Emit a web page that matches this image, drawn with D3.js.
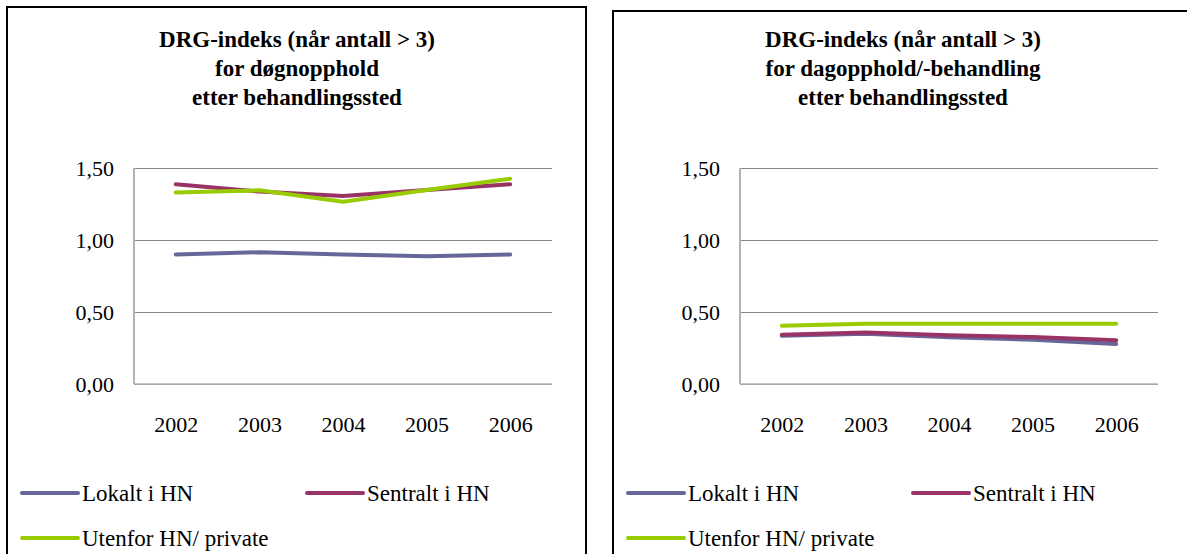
<!DOCTYPE html>
<html>
<head>
<meta charset="utf-8">
<script src="https://cdn.jsdelivr.net/npm/d3@7"></script>
<style>
  body { margin: 0; background: #fff; }
</style>
</head>
<body>
<svg id="chart" width="1187" height="554"></svg>
<script>
// categories
const years = ["2002", "2003", "2004", "2005", "2006"];
const seriesNames = ["Lokalt i HN", "Sentralt i HN", "Utenfor HN/ private"];
const yTicks = [0, 0.5, 1.0, 1.5];

// døgnopphold
const dognLokalt   = [0.90, 0.915, 0.90, 0.887, 0.90];
const dognSentralt = [1.387, 1.336, 1.306, 1.347, 1.387];
const dognUtenfor  = [1.33, 1.345, 1.266, 1.347, 1.426];

// dagopphold/-behandling
const dagLokalt   = [0.335, 0.349, 0.324, 0.308, 0.278];
const dagSentralt = [0.342, 0.358, 0.338, 0.326, 0.303];
const dagUtenfor  = [0.405, 0.419, 0.419, 0.419, 0.419];

const leftTitle = ["DRG-indeks (når antall > 3)", "for døgnopphold", "etter behandlingssted"];
const rightTitle = ["DRG-indeks (når antall > 3)", "for dagopphold/-behandling", "etter behandlingssted"];

const colors = ["#666699", "#993366", "#99cc00"];
const serif = "'Times New Roman', Times, 'Liberation Serif', 'DejaVu Serif', serif";

const svg = d3.select("#chart")
    .style("font-family", serif);

function drawPanel(px, py, titleLines, seriesData) {
    let g = svg.append("g").attr("transform", "translate(" + px + ",0)");

    g.append("rect")
        .attr("x", 0)
        .attr("y", py)
        .attr("width", 579)
        .attr("height", 600)
        .attr("fill", "#fff")
        .attr("stroke", "#000")
        .attr("stroke-width", 2);

    g.append("text")
        .attr("x", 290)
        .attr("text-anchor", "middle")
        .style("font-family", serif)
        .style("font-size", "23px")
        .style("font-weight", "bold")
        .selectAll("tspan")
        .data(titleLines)
        .enter()
        .append("tspan")
          .attr("x", 290)
          .attr("y", (d, i) => 47 + i * 29)
          .text(d => d);

    let plotLeft = 127, plotRight = 545, plotTop = 168, plotBottom = 384;

    let xScale = d3.scalePoint()
                    .domain(years)
                    .range([plotLeft, plotRight])
                    .padding(0.5);
    let yScale = d3.scaleLinear()
                    .domain([0, 1.5])
                    .range([plotBottom, plotTop]);

    let yAxis = d3.axisLeft(yScale)
                    .tickValues(yTicks)
                    .tickSize(-(plotRight - plotLeft))
                    .tickPadding(20)
                    .tickFormat(d => d3.format(".2f")(d).replace(".", ","));

    let ya = g.append("g")
        .attr("transform", "translate(" + plotLeft + ",0)")
        .call(yAxis)
        .attr("font-family", null);
    ya.select(".domain").remove();
    ya.selectAll(".tick line")
        .attr("stroke", "#868686")
        .attr("stroke-width", 1);
    ya.selectAll(".tick text")
        .style("font-family", serif)
        .style("font-size", "22px")
        .attr("fill", "#000")
        .attr("dy", "0.35em");

    // plot area axis lines
    g.append("line")
        .attr("x1", plotLeft).attr("x2", plotLeft)
        .attr("y1", plotTop).attr("y2", plotBottom)
        .attr("stroke", "#b3b3b3")
        .attr("stroke-width", 2);
    g.append("line")
        .attr("x1", plotLeft).attr("x2", plotRight)
        .attr("y1", plotBottom).attr("y2", plotBottom)
        .attr("stroke", "#b3b3b3")
        .attr("stroke-width", 1.5);

    let xAxis = d3.axisBottom(xScale).tickSize(0);
    let xa = g.append("g")
        .attr("transform", "translate(0," + plotBottom + ")")
        .call(xAxis)
        .attr("font-family", null);
    xa.select(".domain").remove();
    xa.selectAll(".tick text")
        .style("font-family", serif)
        .style("font-size", "22px")
        .attr("fill", "#000")
        .attr("y", 48)
        .attr("dy", 0);

    let line = d3.line()
                .x((d, i) => xScale(years[i]))
                .y(d => yScale(d));

    g.selectAll(".series")
        .data(seriesData)
        .enter()
        .append("path")
          .classed("series", true)
          .attr("d", d => line(d))
          .attr("fill", "none")
          .attr("stroke", (d, i) => colors[i])
          .attr("stroke-width", 4)
          .attr("stroke-linejoin", "round")
          .attr("stroke-linecap", "round");

    // legend
    let legendPos = [
        { x: 15, y: 493 },
        { x: 300, y: 493 },
        { x: 15, y: 538 }
    ];
    let legend = g.selectAll(".legend")
        .data(seriesNames)
        .enter()
        .append("g")
          .classed("legend", true)
          .attr("transform", (d, i) => "translate(" + legendPos[i].x + "," + legendPos[i].y + ")");
    legend.append("line")
        .attr("x1", 0).attr("x2", 56)
        .attr("y1", 0).attr("y2", 0)
        .attr("stroke", (d, i) => colors[i])
        .attr("stroke-width", 4)
        .attr("stroke-linecap", "round");
    legend.append("text")
        .attr("x", 60)
        .attr("y", 8)
        .style("font-family", serif)
        .style("font-size", "23px")
        .text(d => d);
}

drawPanel(7, 7, leftTitle, [dognLokalt, dognSentralt, dognUtenfor]);
drawPanel(613, 11, rightTitle, [dagLokalt, dagSentralt, dagUtenfor]);
</script>
</body>
</html>
